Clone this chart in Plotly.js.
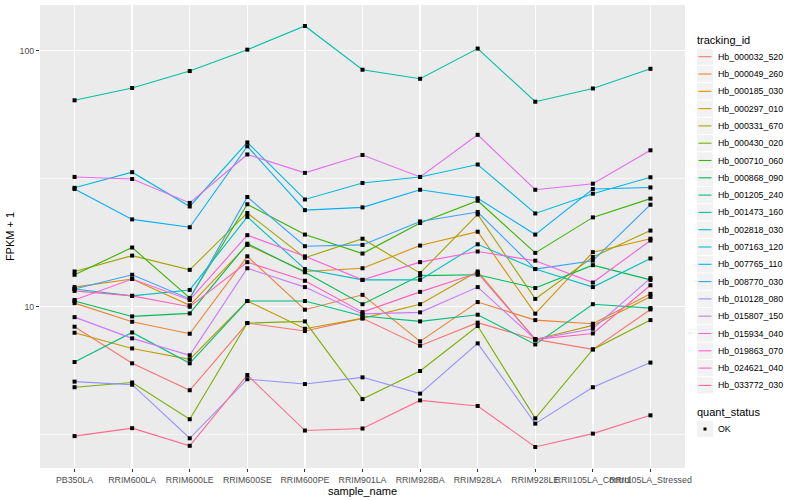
<!DOCTYPE html>
<html>
<head>
<meta charset="utf-8">
<script src="https://cdn.plot.ly/plotly-3.0.1.min.js"></script>
<style>html,body{margin:0;padding:0;background:#fff;}#chart{width:800px;height:500px;}</style>
</head>
<body>
<div id="chart"></div>
<script>
// ---- data (FPKM + 1) ----
const sample_name = ["PB350LA","RRIM600LA","RRIM600LE","RRIM600SE","RRIM600PE","RRIM901LA","RRIM928BA","RRIM928LA","RRIM928LE","RRII105LA_Control","RRII105LA_Stressed"];

const Hb_000032_520 = [8.33, 5.99, 4.70, 8.61, 8.01, 8.98, 7.02, 8.64, 7.43, 6.79, 9.73];
const Hb_000049_260 = [10.3, 8.71, 7.82, 15.7, 9.71, 11.1, 7.30, 10.4, 8.84, 8.56, 11.2];
const Hb_000185_030 = [11.9, 12.8, 10.1, 17.4, 13.7, 14.1, 17.3, 19.6, 9.37, 16.3, 18.4];
const Hb_000297_010 = [7.89, 6.85, 6.21, 10.5, 8.18, 8.98, 10.2, 13.7, 7.43, 8.43, 10.9];
const Hb_000331_670 = [13.7, 15.8, 13.9, 23.2, 15.5, 18.4, 13.5, 22.9, 10.7, 15.6, 19.8];
const Hb_000430_020 = [4.83, 5.04, 3.62, 8.61, 8.74, 4.34, 5.59, 8.38, 3.65, 6.79, 8.84];
const Hb_000710_060 = [13.3, 17.0, 10.8, 25.1, 19.1, 16.1, 21.2, 25.9, 16.2, 22.3, 26.4];
const Hb_000868_090 = [10.5, 9.14, 9.39, 17.6, 13.6, 10.2, 13.2, 13.3, 11.8, 14.5, 12.7];
const Hb_001205_240 = [6.06, 7.91, 5.99, 10.5, 10.5, 9.17, 8.74, 9.28, 7.10, 10.2, 9.85];
const Hb_001473_160 = [64.0, 71.5, 83.3, 101, 125, 84.3, 77.7, 102, 63.2, 71.2, 85.0];
const Hb_002818_030 = [11.7, 11.0, 11.6, 22.4, 14.0, 12.7, 12.7, 17.5, 14.0, 11.9, 15.4];
const Hb_007163_120 = [29.1, 33.5, 24.6, 43.8, 26.2, 30.4, 32.1, 35.9, 23.1, 27.6, 32.0];
const Hb_007765_110 = [28.8, 21.9, 20.4, 42.3, 23.8, 24.4, 28.6, 26.5, 19.1, 28.8, 29.2];
const Hb_008770_030 = [11.7, 13.3, 10.7, 26.8, 17.2, 17.4, 21.5, 23.4, 14.0, 15.1, 25.0];
const Hb_010128_080 = [5.08, 4.94, 3.05, 5.19, 4.97, 5.28, 4.56, 7.17, 3.48, 4.83, 6.03];
const Hb_015807_150 = [9.08, 7.50, 6.44, 14.1, 11.9, 9.35, 9.48, 11.9, 7.43, 8.18, 12.9];
const Hb_015934_040 = [32.1, 31.5, 25.4, 39.3, 33.3, 39.1, 32.1, 46.9, 28.6, 30.2, 40.8];
const Hb_019863_070 = [10.6, 12.8, 10.6, 19.0, 15.7, 12.7, 14.9, 16.4, 15.1, 12.4, 18.1];
const Hb_024621_040 = [11.5, 11.0, 9.97, 14.9, 12.6, 9.50, 11.4, 13.5, 7.43, 7.84, 12.1];
const Hb_033772_030 = [3.11, 3.34, 2.85, 5.39, 3.27, 3.33, 4.29, 4.08, 2.82, 3.18, 3.75];

const tracking_id = ["Hb_000032_520","Hb_000049_260","Hb_000185_030","Hb_000297_010","Hb_000331_670","Hb_000430_020","Hb_000710_060","Hb_000868_090","Hb_001205_240","Hb_001473_160","Hb_002818_030","Hb_007163_120","Hb_007765_110","Hb_008770_030","Hb_010128_080","Hb_015807_150","Hb_015934_040","Hb_019863_070","Hb_024621_040","Hb_033772_030"];
const series = [Hb_000032_520,Hb_000049_260,Hb_000185_030,Hb_000297_010,Hb_000331_670,Hb_000430_020,Hb_000710_060,Hb_000868_090,Hb_001205_240,Hb_001473_160,Hb_002818_030,Hb_007163_120,Hb_007765_110,Hb_008770_030,Hb_010128_080,Hb_015807_150,Hb_015934_040,Hb_019863_070,Hb_024621_040,Hb_033772_030];
const quant_status = ["OK"];
const yTickVals = [10, 100];
const yTickText = ["10", "100"];

// ---- styles ----
const colors = ["#F8766D","#EA8331","#D89000","#C09B00","#A3A500","#7CAE00","#39B600","#00BB4E","#00BF7D","#00C1A3","#00BFC4","#00BAE0","#00B0F6","#35A2FF","#9590FF","#C77CFF","#E76BF3","#FA62DB","#FF62BC","#FF6C91"];
const FONT = "Liberation Sans, Arial, sans-serif";

const traces = [];
series.forEach((vals, i) => {
  traces.push({
    type: "scatter", mode: "lines", name: tracking_id[i],
    x: sample_name, y: vals,
    line: {color: colors[i], width: 1.1},
    showlegend: false, hoverinfo: "name+x+y"
  });
});
// points (quant_status = OK)
const px = [], py = [];
series.forEach(vals => vals.forEach((v, j) => { px.push(sample_name[j]); py.push(v); }));
traces.push({
  type: "scatter", mode: "markers", name: quant_status[0],
  x: px, y: py, marker: {color: "#000000", size: 4, symbol: "square"},
  showlegend: false, hoverinfo: "x+y"
});

// ---- manual ggplot-like legend (layout only) ----
const L = 40, R = 115, T = 5, B = 32, W = 800, H = 500;
const pw = W - L - R, ph = H - T - B;
const fx = p => (p - L) / pw;
const fy = p => (H - B - p) / ph;
const shapes = [], annotations = [];
const legLeft = 697, keyW = 16, step = 17.3, firstY = 56.7;
annotations.push({xref:"paper", yref:"paper", x: fx(legLeft - 2), y: fy(40.5), xanchor:"left", yanchor:"middle",
  text:"tracking_id", showarrow:false, font:{family:FONT, size:11, color:"#000"}});
tracking_id.forEach((name, i) => {
  const cy = firstY + i * step;
  shapes.push({type:"rect", xref:"paper", yref:"paper", x0: fx(legLeft), x1: fx(legLeft + keyW), y0: fy(cy - step/2 + 0.5), y1: fy(cy + step/2 - 0.5),
    fillcolor:"#F2F2F2", line:{width:0}, layer:"above"});
  shapes.push({type:"line", xref:"paper", yref:"paper", x0: fx(legLeft + 1.5), x1: fx(legLeft + keyW - 1.5), y0: fy(cy), y1: fy(cy),
    line:{color: colors[i], width: 1.1}, layer:"above"});
  annotations.push({xref:"paper", yref:"paper", x: fx(legLeft + keyW + 2.5), y: fy(cy), xanchor:"left", yanchor:"middle",
    text: name, showarrow:false, font:{family:FONT, size:8.8, color:"#000"}});
});
annotations.push({xref:"paper", yref:"paper", x: fx(legLeft - 2), y: fy(412.3), xanchor:"left", yanchor:"middle",
  text:"quant_status", showarrow:false, font:{family:FONT, size:11, color:"#000"}});
{
  const cy = 429;
  shapes.push({type:"rect", xref:"paper", yref:"paper", x0: fx(legLeft), x1: fx(legLeft + keyW), y0: fy(cy - step/2 + 0.5), y1: fy(cy + step/2 - 0.5),
    fillcolor:"#F2F2F2", line:{width:0}, layer:"above"});
  shapes.push({type:"rect", xref:"paper", yref:"paper", x0: fx(legLeft + 6.5), x1: fx(legLeft + 9.5), y0: fy(cy - 1.5), y1: fy(cy + 1.5),
    fillcolor:"#000", line:{width:0}, layer:"above"});
  annotations.push({xref:"paper", yref:"paper", x: fx(legLeft + keyW + 2.5), y: fy(cy), xanchor:"left", yanchor:"middle",
    text: quant_status[0], showarrow:false, font:{family:FONT, size:8.8, color:"#000"}});
}

const layout = {
  width: W, height: H,
  margin: {l: L, r: R, t: T, b: B, pad: 0},
  paper_bgcolor: "#FFFFFF", plot_bgcolor: "#EBEBEB",
  font: {family: FONT, size: 8.8, color: "#4D4D4D"},
  showlegend: false,
  xaxis: {
    type: "category", categoryorder: "array", categoryarray: sample_name,
    range: [-0.6, sample_name.length - 0.4],
    showgrid: true, gridcolor: "#FFFFFF", gridwidth: 1.3,
    zeroline: false, showline: false,
    ticks: "outside", ticklen: 3, tickwidth: 1, tickcolor: "#333333",
    tickangle: 0, tickfont: {family: FONT, size: 8.8, color: "#4D4D4D"},
    title: {text: "sample_name", font: {family: FONT, size: 11, color: "#000"}, standoff: 2},
    fixedrange: true
  },
  yaxis: {
    type: "log", range: [0.368, 2.179],
    tickmode: "array", tickvals: yTickVals, ticktext: yTickText,
    showgrid: true, gridcolor: "#FFFFFF", gridwidth: 1.3,
    minor: {tickmode: "array", tickvals: [Math.sqrt(10), Math.sqrt(1000)], showgrid: true, gridcolor: "#FFFFFF", gridwidth: 0.6, ticks: ""},
    zeroline: false, showline: false,
    ticks: "outside", ticklen: 3, tickwidth: 1, tickcolor: "#333333",
    tickfont: {family: FONT, size: 8.8, color: "#4D4D4D"},
    title: {text: "FPKM + 1", font: {family: FONT, size: 11, color: "#000"}, standoff: 2},
    fixedrange: true
  },
  shapes: shapes,
  annotations: annotations
};

Plotly.newPlot("chart", traces, layout, {displayModeBar: false, staticPlot: true});
</script>
</body>
</html>
